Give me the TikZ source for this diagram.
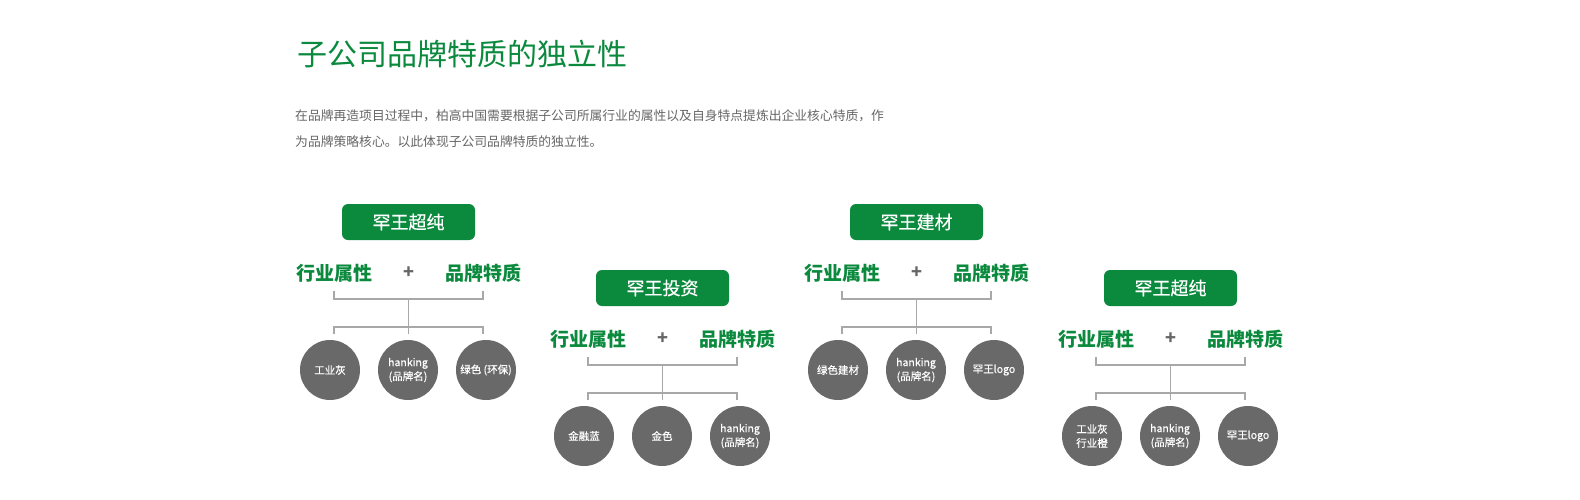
\documentclass[tikz,border=0pt]{standalone}
\usepackage{fontspec}
\setmainfont{Noto Sans CJK SC}
\newfontfamily\medfont[FakeBold=0.5]{Noto Sans CJK SC}
\definecolor{hgreen}{HTML}{0B8A3E}
\definecolor{cgray}{HTML}{696969}
\definecolor{lgray}{HTML}{A8A8A8}
\definecolor{tgray}{HTML}{666666}
\tikzset{
  brandbox/.style={fill=hgreen, rounded corners=6pt, minimum width=133pt, minimum height=36pt, text=white, font=\fontsize{18}{18}\selectfont\medfont, inner sep=0pt},
  attr/.style={text=hgreen, font=\fontsize{19}{19}\selectfont\bfseries, inner sep=0pt},
  plussign/.style={text=tgray, font=\fontsize{18}{18}\selectfont\bfseries, inner sep=0pt},
  dot/.style={circle, fill=cgray, minimum size=60pt, inner sep=0pt, text=white, font=\fontsize{10.5}{14}\selectfont\medfont, align=center},
  link/.style={draw=lgray, line width=1.4pt},
  para/.style={text=tgray, font=\fontsize{12.8}{12.8}\selectfont, inner sep=0pt, anchor=west},
}
\newcommand\brandgroup[7]{%
  \begin{scope}[shift={(#2,#3)}]
    \node[brandbox] (#1box) at (408.5,222) {#4};
    \node[attr] (#1attr) at (334,273) {行业属性};
    \node[plussign] (#1plus) at (409,273) {+};
    \node[attr] (#1feat) at (483.5,273) {品牌特质};
    \coordinate (#1tl) at (334,291);
    \coordinate (#1tr) at (483,291);
    \coordinate (#1hub) at (408.5,299);
    \coordinate (#1mid) at (408.5,327);
    \coordinate (#1bl) at (334,334);
    \coordinate (#1bc) at (408.5,334);
    \coordinate (#1br) at (483,334);
    \node[dot] (#1c1) at (330,370) {#5};
    \node[dot] (#1c2) at (408,370) {#6};
    \node[dot] (#1c3) at (486,370) {#7};
    \draw[link] (#1tl) |- (#1hub) -| (#1tr);
    \draw[link] (#1hub) -- (#1bc);
    \draw[link] (#1bl) |- (#1mid) -| (#1br);
  \end{scope}%
}
\begin{document}
\begin{tikzpicture}[x=1pt,y=-1pt]
  \useasboundingbox[fill=white] (0,0) rectangle (1580,499);
  \node[text=hgreen, font=\fontsize{30}{30}\selectfont, inner sep=0pt, anchor=west] (title) at (297,54) {子公司品牌特质的独立性};
  \node[para] (p1) at (295,116) {在品牌再造项目过程中，柏高中国需要根据子公司所属行业的属性以及自身特点提炼出企业核心特质，作};
  \node[para] (p2) at (295,142) {为品牌策略核心。以此体现子公司品牌特质的独立性。};
  \brandgroup{a}{0}{0}{罕王超纯}{工业灰}{hanking\\(品牌名)}{绿色 (环保)}
  \brandgroup{b}{254}{66}{罕王投资}{金融蓝}{金色}{hanking\\(品牌名)}
  \brandgroup{c}{508}{0}{罕王建材}{绿色建材}{hanking\\(品牌名)}{罕王logo}
  \brandgroup{d}{762}{66}{罕王超纯}{工业灰\\行业橙}{hanking\\(品牌名)}{罕王logo}
\end{tikzpicture}
\end{document}
